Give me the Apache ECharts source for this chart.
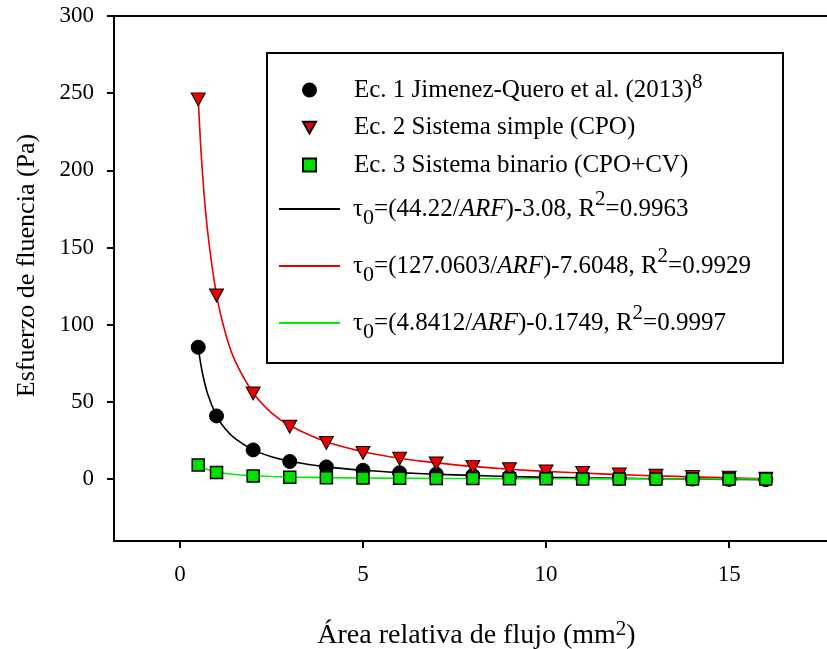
<!DOCTYPE html>
<html><head><meta charset="utf-8">
<script src="https://cdn.jsdelivr.net/npm/echarts@6/dist/echarts.min.js"></script>
<style>html,body{margin:0;padding:0;background:#fff}#c{width:827px;height:649px}</style>
</head><body><div id="c"></div>
<script>
// ---- data ----
const xPoints = [0.5, 1, 2, 3, 4, 5, 6, 7, 8, 9, 10, 11, 12, 13, 14, 15, 16];
const ec1 = [85.5, 41, 19, 11.5, 8, 5.8, 4.2, 3.3, 2.4, 1.8, 1.3, 0.9, 0.6, 0.3, 0.1, -0.1, -0.3];
const ec2 = [246, 119, 55.5, 34, 23.5, 17, 13.3, 10.2, 8, 6.5, 5, 4, 3, 2.2, 1.5, 0.9, 0.3];
const ec3 = [9.3, 4.3, 2.1, 1.3, 1, 0.8, 0.6, 0.5, 0.4, 0.3, 0.3, 0.2, 0.2, 0.1, 0.1, 0.1, 0.1];
const curveX = [0.5, 0.6, 0.75, 1, 1.25, 1.5, 2, 2.5, 3, 4, 5, 6, 7, 8, 9, 10, 11, 12, 13, 14, 15, 16];
const curve1 = [85.4, 70.6, 55.9, 41.1, 32.3, 26.4, 19.0, 14.6, 11.7, 8.0, 5.8, 4.3, 3.2, 2.5, 1.8, 1.3, 0.9, 0.6, 0.3, 0.1, -0.1, -0.3];
const curve2 = [246.5, 204, 162, 119.5, 94, 77, 56, 43, 34.8, 24.2, 17.8, 13.6, 10.6, 8.3, 6.5, 5.1, 4.0, 3.0, 2.2, 1.5, 0.9, 0.3];
const curve3 = [9.5, 7.9, 6.3, 4.7, 3.7, 3.05, 2.25, 1.76, 1.44, 1.04, 0.79, 0.63, 0.52, 0.43, 0.36, 0.31, 0.27, 0.23, 0.2, 0.17, 0.15, 0.13];
const xTicks = [0, 5, 10, 15];
const yTicks = [0, 50, 100, 150, 200, 250, 300];
const pointNames = ['Ec. 1 Jimenez-Quero et al. (2013)8', 'Ec. 2 Sistema simple (CPO)', 'Ec. 3 Sistema binario (CPO+CV)'];
const curveNames = ['τ0=(44.22/ARF)-3.08, R2=0.9963', 'τ0=(127.0603/ARF)-7.6048, R2=0.9929', 'τ0=(4.8412/ARF)-0.1749, R2=0.9997'];
const pointLabels = ['{t|Ec. 1 Jimenez-Quero et al. (2013)}{sup|8}', '{t|Ec. 2 Sistema simple (CPO)}', '{t|Ec. 3 Sistema binario (CPO+CV)}'];
const curveLabels = [
  '{t|τ}{sub|0}{t|=(44.22/}{it|ARF}{t|)-3.08, R}{sup|2}{t|=0.9963}',
  '{t|τ}{sub|0}{t|=(127.0603/}{it|ARF}{t|)-7.6048, R}{sup|2}{t|=0.9929}',
  '{t|τ}{sub|0}{t|=(4.8412/}{it|ARF}{t|)-0.1749, R}{sup|2}{t|=0.9997}'
];

const F = '"Liberation Serif", "Times New Roman", serif';
const RED = '#e80000', GREEN = '#00e000', LGREEN = '#00ee00';
const TRI = 'path://M0,0L10,0L5,9Z';
const zip = (xs, ys) => xs.map((x, i) => [x, ys[i]]);

const chart = echarts.init(document.getElementById('c'), null, {renderer: 'canvas'});
const richPts = {
  t: {fontFamily: F, fontSize: 25, color: '#000', lineHeight: 36},
  sup: {fontFamily: F, fontSize: 21, color: '#000', verticalAlign: 'top', lineHeight: 21}
};
const richCurves = {
  t: {fontFamily: F, fontSize: 25, color: '#000', lineHeight: 40},
  it: {fontFamily: F, fontSize: 25, color: '#000', fontStyle: 'italic', lineHeight: 40},
  sub: {fontFamily: F, fontSize: 22, color: '#000', verticalAlign: 'bottom', lineHeight: 22},
  sup: {fontFamily: F, fontSize: 21, color: '#000', verticalAlign: 'top', lineHeight: 21}
};

chart.setOption({
  animation: false,
  backgroundColor: '#fff',
  grid: {left: 114, top: 16, width: 725, height: 525, outerBoundsMode: 'none', containLabel: false, show: false},
  xAxis: [{
    type: 'value', min: -1.8, max: 18,
    axisLine: {onZero: false, lineStyle: {color: '#000', width: 2}},
    axisTick: {show: true, customValues: xTicks, length: 7, lineStyle: {color: '#000', width: 2}},
    axisLabel: {customValues: xTicks, fontFamily: F, fontSize: 23, color: '#000', margin: 22},
    splitLine: {show: false},
    name: '{t|Área relativa de flujo (mm}{s|2}{t|)}',
    nameLocation: 'middle', nameGap: 78,
    nameTextStyle: {rich: {
      t: {fontFamily: F, fontSize: 28, color: '#000', lineHeight: 34},
      s: {fontFamily: F, fontSize: 21, color: '#000', verticalAlign: 'top', lineHeight: 20}
    }}
  }, {
    type: 'value', min: -1.8, max: 18, position: 'top',
    axisLine: {onZero: false, lineStyle: {color: '#000', width: 2}},
    axisTick: {show: false}, axisLabel: {show: false}, splitLine: {show: false}
  }],
  yAxis: {
    type: 'value', min: -40, max: 300,
    axisLine: {onZero: false, lineStyle: {color: '#000', width: 2}},
    axisTick: {show: true, customValues: yTicks, length: 7, lineStyle: {color: '#000', width: 2}},
    axisLabel: {customValues: yTicks, fontFamily: F, fontSize: 23, color: '#000', margin: 20},
    splitLine: {show: false},
    name: 'Esfuerzo de fluencia (Pa)',
    nameLocation: 'middle', nameGap: 74,
    nameTextStyle: {fontFamily: F, fontSize: 26, color: '#000', padding: [0, 0, 0, 26]}
  },
  graphic: [{
    type: 'rect', z: 3, left: 266, top: 52,
    shape: {width: 516, height: 310},
    style: {fill: '#fff', stroke: '#000', lineWidth: 2}
  }],
  legend: [{
    z: 5, orient: 'vertical', left: 302, top: 72, padding: 0, itemGap: 12.5,
    itemWidth: 13, itemHeight: 13, selectedMode: false,
    data: [
      {name: pointNames[0], icon: 'circle'},
      {name: pointNames[1], icon: TRI},
      {name: pointNames[2], icon: 'rect'}
    ],
    formatter: n => pointLabels[pointNames.indexOf(n)],
    textStyle: {padding: [0, 0, 0, 33], rich: richPts}
  }, {
    z: 5, orient: 'vertical', left: 279, top: 189, padding: 0, itemGap: 17,
    itemWidth: 61, itemHeight: 2, selectedMode: false,
    data: curveNames.map(n => ({name: n, icon: 'rect'})),
    formatter: n => curveLabels[curveNames.indexOf(n)],
    textStyle: {padding: [0, 0, 0, 8], rich: richCurves}
  }],
  series: [
    {name: curveNames[0], type: 'line', data: zip(curveX, curve1), symbol: 'none', smooth: 0.3,
      lineStyle: {color: '#000', width: 1.6}, itemStyle: {color: '#000'}, z: 2},
    {name: curveNames[1], type: 'line', data: zip(curveX, curve2), symbol: 'none', smooth: 0.3,
      lineStyle: {color: RED, width: 1.6}, itemStyle: {color: RED}, z: 2},
    {name: curveNames[2], type: 'line', data: zip(curveX, curve3), symbol: 'none', smooth: 0.3,
      lineStyle: {color: LGREEN, width: 1.6}, itemStyle: {color: LGREEN}, z: 2},
    {name: pointNames[0], type: 'scatter', data: zip(xPoints, ec1), symbol: 'circle', symbolSize: 14,
      itemStyle: {color: '#000', borderColor: '#000', borderWidth: 1, opacity: 1}, z: 3},
    {name: pointNames[1], type: 'scatter', data: zip(xPoints, ec2), symbol: TRI, symbolSize: [14, 13],
      itemStyle: {color: RED, borderColor: '#000', borderWidth: 1, opacity: 1}, z: 4},
    {name: pointNames[2], type: 'scatter', data: zip(xPoints, ec3), symbol: 'rect', symbolSize: 12,
      itemStyle: {color: GREEN, borderColor: '#000', borderWidth: 1.5, opacity: 1}, z: 5}
  ]
});
</script></body></html>
